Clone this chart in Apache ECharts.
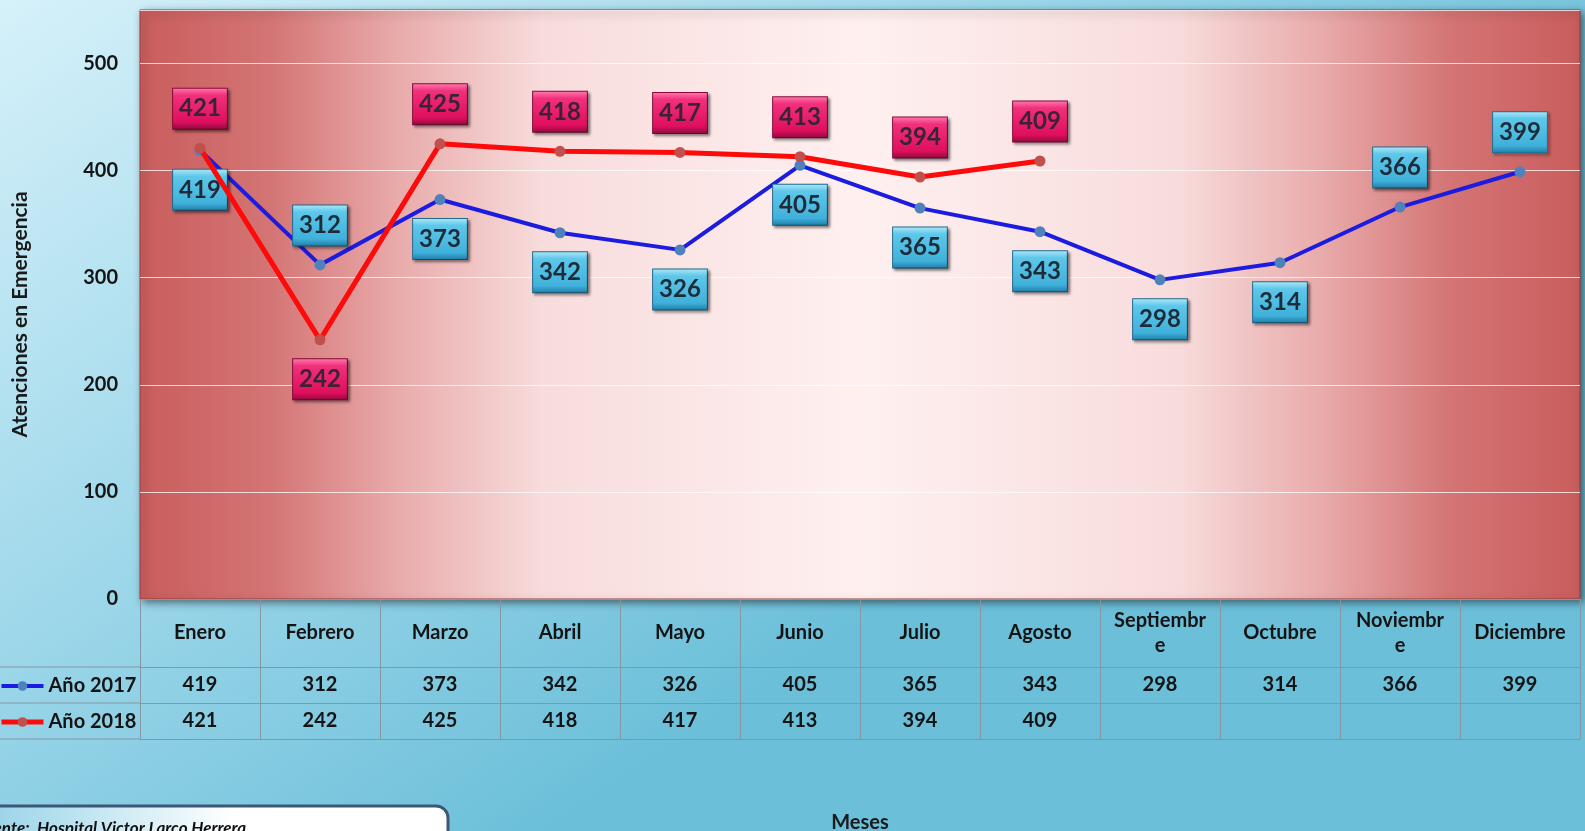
<!DOCTYPE html>
<html>
<head>
<meta charset="utf-8">
<title>Atenciones en Emergencia</title>
<script src="https://cdn.jsdelivr.net/npm/echarts@6/dist/echarts.min.js"></script>
<style>
  html, body { margin: 0; padding: 0; }
  #chart { width: 1585px; height: 831px; }
</style>
</head>
<body>
<div id="chart"></div>
<script>
const meses = ['Enero', 'Febrero', 'Marzo', 'Abril', 'Mayo', 'Junio', 'Julio', 'Agosto', 'Septiembre', 'Octubre', 'Noviembre', 'Diciembre']
const atenciones2017 = [419, 312, 373, 342, 326, 405, 365, 343, 298, 314, 366, 399]
const atenciones2018 = [421, 242, 425, 418, 417, 413, 394, 409]
const nombres = ['Año 2017', 'Año 2018']
// lado de la etiqueta de cada punto
const lado2017 = ['bottom', 'top', 'bottom', 'bottom', 'bottom', 'bottom', 'bottom', 'bottom', 'bottom', 'bottom', 'top', 'top']
const lado2018 = ['top', 'bottom', 'top', 'top', 'top', 'top', 'top', 'top']

const FONT = 'Lato, "Open Sans", sans-serif'
const plotBottom = 599
const filas = [68, 104, 140] // lineas de la tabla bajo el grafico

const chart = echarts.init(document.getElementById('chart'))

function caja(c0, c1, c2, c3) {
  return {
    type: 'linear', x: 0, y: 0, x2: 0, y2: 1,
    colorStops: [
      { offset: 0, color: c0 },
      { offset: 0.18, color: c1 },
      { offset: 0.82, color: c2 },
      { offset: 1, color: c3 }
    ]
  }
}

const etiquetaBase = {
  show: true,
  fontFamily: FONT,
  fontSize: 24,
  fontWeight: 'bold',
  lineHeight: 30,
  padding: [5, 6, 5, 6],
  borderWidth: 1,
  shadowColor: 'rgba(0,0,0,0.45)',
  shadowBlur: 3,
  shadowOffsetX: 2,
  shadowOffsetY: 2,
  distance: 14
}

const tablaLabel = {
  interval: 0,
  fontFamily: FONT,
  fontSize: 20,
  fontWeight: 'bold',
  color: '#141414',
  verticalAlign: 'middle'
}

const lineaTabla = { lineStyle: { color: '#8597a3', width: 1 } }

const option = {
  backgroundColor: {
    type: 'linear', x: 0, y: 0, x2: 0.35, y2: 1,
    colorStops: [
      { offset: 0, color: '#d6f1fa' },
      { offset: 0.5, color: '#a2d9eb' },
      { offset: 1, color: '#6bbfd9' }
    ]
  },
  textStyle: { fontFamily: FONT },
  legend: {
    data: [
      { name: nombres[0], lineStyle: { width: 4 } },
      { name: nombres[1], lineStyle: { width: 5 } }
    ],
    orient: 'vertical',
    left: -6,
    top: plotBottom + filas[0] + 2,
    itemGap: 12,
    itemWidth: 42,
    itemHeight: 12,
    itemStyle: { borderWidth: 0 },
    textStyle: { fontSize: 20, fontWeight: 'bold', color: '#141414', lineHeight: 24, fontFamily: FONT }
  },
  grid: {
    left: 140,
    right: 5,
    top: 10,
    bottom: 831 - plotBottom,
    outerBoundsMode: 'none',
    show: true,
    borderColor: '#9c3b3b',
    borderWidth: 1,
    shadowColor: 'rgba(0,0,0,0.5)',
    shadowBlur: 8,
    shadowOffsetX: 3,
    shadowOffsetY: 3,
    backgroundColor: {
      type: 'linear', x: 0, y: 0, x2: 1, y2: 0,
      colorStops: [
        { offset: 0, color: '#c95d5d' },
        { offset: 0.09, color: '#d47474' },
        { offset: 0.18, color: '#e9abab' },
        { offset: 0.28, color: '#f8dcdc' },
        { offset: 0.5, color: '#fff0f0' },
        { offset: 0.72, color: '#f8dcdc' },
        { offset: 0.82, color: '#e9abab' },
        { offset: 0.91, color: '#d47474' },
        { offset: 1, color: '#c95d5d' }
      ]
    }
  },
  xAxis: [
    {
      type: 'category',
      position: 'bottom',
      data: meses,
      boundaryGap: true,
      axisLine: lineaTabla,
      axisTick: { show: true, interval: 0, length: filas[2], lineStyle: { color: '#8597a3' } },
      axisLabel: Object.assign({}, tablaLabel, {
        margin: 34, lineHeight: 25, width: 96, overflow: 'breakAll'
      })
    },
    {
      type: 'category',
      position: 'bottom',
      data: meses,
      offset: filas[0],
      axisLine: lineaTabla,
      axisTick: { show: false },
      axisLabel: Object.assign({}, tablaLabel, {
        margin: 18,
        formatter: (v, i) => atenciones2017[i] != null ? String(atenciones2017[i]) : ''
      })
    },
    {
      type: 'category',
      position: 'bottom',
      data: meses,
      offset: filas[1],
      axisLine: lineaTabla,
      axisTick: { show: false },
      axisLabel: Object.assign({}, tablaLabel, {
        margin: 18,
        formatter: (v, i) => atenciones2018[i] != null ? String(atenciones2018[i]) : ''
      })
    },
    {
      type: 'category',
      position: 'bottom',
      data: meses,
      offset: filas[2],
      axisLine: lineaTabla,
      axisTick: { show: false },
      axisLabel: { show: false },
      name: 'Meses',
      nameLocation: 'middle',
      nameGap: 74,
      nameTextStyle: { fontFamily: FONT, fontSize: 20, fontWeight: 'bold', color: '#1a1a1a' }
    }
  ],
  yAxis: {
    type: 'value',
    min: 0,
    max: 550,
    interval: 100,
    name: 'Atenciones en Emergencia',
    nameLocation: 'middle',
    nameGap: 109,
    nameRotate: 90,
    nameTextStyle: { fontFamily: FONT, fontSize: 21, fontWeight: 'bold', color: '#1a1a1a', padding: [0, 20, 0, 0] },
    axisLine: { show: false },
    axisTick: { show: false },
    splitLine: { lineStyle: { color: 'rgba(255,255,255,0.75)', width: 1 } },
    axisLabel: {
      margin: 22,
      fontFamily: FONT,
      fontSize: 20,
      fontWeight: 'bold',
      color: '#141414',
      formatter: v => v > 500 ? '' : String(v)
    }
  },
  series: [
    {
      name: nombres[0],
      type: 'line',
      data: atenciones2017.map((v, i) => ({ value: v, label: { position: lado2017[i] } })),
      symbol: 'circle',
      symbolSize: 11,
      lineStyle: { color: '#1c1ce0', width: 4 },
      itemStyle: { color: '#4f81bd' },
      label: Object.assign({}, etiquetaBase, {
        color: '#1d2c38',
        borderColor: '#1f6f92',
        backgroundColor: caja('#b0e9f9', '#5ec7ea', '#40b1db', '#1e7ca6')
      }),
      z: 2
    },
    {
      name: nombres[1],
      type: 'line',
      data: atenciones2018.map((v, i) => ({ value: v, label: { position: lado2018[i] } })),
      symbol: 'circle',
      symbolSize: 11,
      lineStyle: { color: '#ff0a0a', width: 5 },
      itemStyle: { color: '#c0504d' },
      label: Object.assign({}, etiquetaBase, {
        color: '#3a2433',
        borderColor: '#8a0a3a',
        backgroundColor: caja('#ff7cb0', '#f1307c', '#df0f5d', '#8c0a3c')
      }),
      z: 3
    }
  ],
  graphic: [
    // bordes de la columna de leyenda
    { type: 'line', shape: { x1: 0, y1: plotBottom + filas[0], x2: 140, y2: plotBottom + filas[0] }, style: { stroke: '#8597a3', lineWidth: 1 } },
    { type: 'line', shape: { x1: 0, y1: plotBottom + filas[1], x2: 140, y2: plotBottom + filas[1] }, style: { stroke: '#8597a3', lineWidth: 1 } },
    { type: 'line', shape: { x1: 0, y1: plotBottom + filas[2], x2: 140, y2: plotBottom + filas[2] }, style: { stroke: '#8597a3', lineWidth: 1 } },
    {
      type: 'group',
      children: [
        {
          type: 'rect',
          shape: { x: -30, y: 806, width: 478, height: 60, r: 12 },
          style: {
            fill: {
              type: 'linear', x: 0, y: 0, x2: 1, y2: 0,
              colorStops: [
                { offset: 0, color: '#8fd0e6' },
                { offset: 0.55, color: '#ffffff' },
                { offset: 1, color: '#ffffff' }
              ]
            },
            stroke: '#3d5876',
            lineWidth: 3
          }
        },
        {
          type: 'text',
          style: {
            text: 'Fuente:  Hospital Victor Larco Herrera',
            x: -24,
            y: 820,
            font: 'italic bold 17px ' + FONT,
            fill: '#111111'
          }
        }
      ]
    }
  ]
}

chart.setOption(option)
</script>
</body>
</html>
